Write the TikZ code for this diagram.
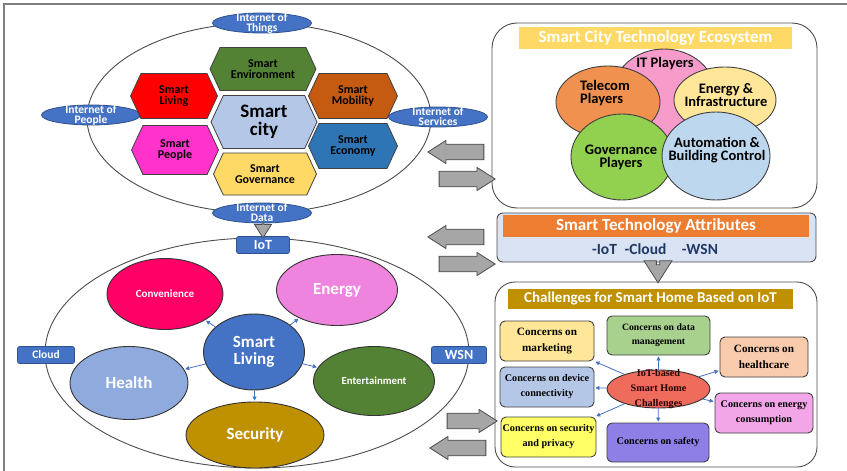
\documentclass[tikz,border=0pt]{standalone}
\usepackage{fontspec}
\setmainfont{Carlito}
\newfontfamily\chfont{Liberation Serif}
\usetikzlibrary{shapes.geometric, shapes.symbols, shapes.arrows, arrows.meta}

\definecolor{framegray}{HTML}{7F7F7F}
\definecolor{netblue}{HTML}{4472C4}
\definecolor{netborder}{HTML}{2F528F}
\definecolor{envgreen}{HTML}{548235}
\definecolor{livred}{HTML}{FF0000}
\definecolor{mobbrown}{HTML}{C55A11}
\definecolor{citylight}{HTML}{B4C7E7}
\definecolor{pplpink}{HTML}{FF33CC}
\definecolor{ecoblue}{HTML}{2E75B6}
\definecolor{govyellow}{HTML}{FFD966}
\definecolor{itpink}{HTML}{F79BCB}
\definecolor{telorange}{HTML}{F0914F}
\definecolor{enyellow}{HTML}{FFE699}
\definecolor{govgreen}{HTML}{92D050}
\definecolor{autoblue}{HTML}{BDD7EE}
\definecolor{attrbg}{HTML}{DAE3F3}
\definecolor{attrorange}{HTML}{ED7D31}
\definecolor{navy}{HTML}{1F3864}
\definecolor{gold}{HTML}{BF9000}
\definecolor{arrowgray}{HTML}{A6A6A6}
\definecolor{mkyellow}{HTML}{FFE699}
\definecolor{dmgreen}{HTML}{A9D18E}
\definecolor{hcpeach}{HTML}{F8CBAD}
\definecolor{dcblue}{HTML}{B4C7E7}
\definecolor{ecpink}{HTML}{F2A6E8}
\definecolor{spyellow}{HTML}{FFFF66}
\definecolor{sfpurple}{HTML}{8E7FE6}
\definecolor{chred}{HTML}{EF6B5B}
\definecolor{convred}{HTML}{FF0066}
\definecolor{enpink}{HTML}{EE84DD}
\definecolor{hlblue}{HTML}{8FAADC}

\tikzset{
  oval/.style 2 args={ellipse, minimum width=#1, minimum height=#2, inner sep=0pt},
  hexa/.style 2 args={signal, signal to=west and east, signal pointer angle=130,
    draw=black!75, line width=0.8pt, minimum width=#1, minimum height=#2, inner sep=0pt},
  netel/.style={oval={99}{20}, fill=netblue, draw=netborder, line width=0.8pt},
  nettxt/.style={text=white, align=center, font=\bfseries\fontsize{11.5}{10}\selectfont},
  hextxt/.style={align=center, font=\bfseries\fontsize{12}{10.8}\selectfont},
  player/.style 2 args={oval={#1}{#2}, draw=black!75, line width=0.9pt},
  plytxt/.style={align=center, font=\bfseries\fontsize{14.5}{13}\selectfont},
  blkarrow/.style 2 args={single arrow, draw=black!70, fill=arrowgray, line width=0.8pt,
    minimum height=#1, minimum width=#2, inner sep=0pt, inner ysep=6pt,
    single arrow head extend=3pt, single arrow tip angle=65},
  bar/.style={text=white, font=\bfseries\fontsize{17}{17}\selectfont, inner sep=0pt},
  concern/.style 2 args={draw=black!75, line width=0.9pt, rounded corners=5pt,
    minimum width=#1, minimum height=#2, inner sep=0pt, align=center},
  chtxt/.style={font=\chfont\bfseries\fontsize{10.2}{15}\selectfont},
  tagbox/.style={fill=netblue, draw=netborder, line width=0.6pt, rounded corners=2pt,
    minimum height=17, inner sep=0pt, text=white},
  aspect/.style 2 args={oval={#1}{#2}, draw=black!80, line width=0.9pt},
  asptxt/.style={text=white, align=center, font=\bfseries\fontsize{17}{17}\selectfont},
  tip/.style={-{Triangle[length=4pt,width=4pt]}, netblue, line width=0.8pt, shorten >=1pt}
}

\begin{document}
\begin{tikzpicture}[x=1pt,y=-1pt]
\useasboundingbox (0,0) rectangle (847,471);
% frame
\draw[framegray, line width=1.3pt] (4,471) -- (4,4) -- (847,4);

% smart city ring with the four internets
\node[aspect={344}{190}, fill=white, draw=black!70] (cityring) at (259,118) {};
\node[netel, label={[nettxt]center:Internet of\\Things}] (things) at (262,23) {};
\node[netel, label={[nettxt]center:Internet of\\People}] (people) at (91,115) {};
\node[netel, label={[nettxt]center:Internet of\\Services}] (services) at (438,117) {};
\node[netel, label={[nettxt]center:Internet of\\Data}] (data) at (262,213) {};

\node[hexa={106}{43}, fill=envgreen, label={[hextxt]center:Smart\\Environment}] (env) at (263,69) {};
\node[hexa={87}{45}, fill=livred, label={[hextxt]center:Smart\\Living}] (living) at (174,96) {};
\node[hexa={89}{45}, fill=mobbrown, label={[hextxt]center:Smart\\Mobility}] (mobility) at (353,96) {};
\node[hexa={106}{53}, fill=citylight, label={[align=center, font=\bfseries\fontsize{19}{18}\selectfont]center:Smart\\city}] (city) at (264,122) {};
\node[hexa={87}{49}, fill=pplpink, label={[hextxt]center:Smart\\People}] (ppl) at (175,150) {};
\node[hexa={89}{45}, fill=ecoblue, label={[hextxt]center:Smart\\Economy}] (economy) at (353,146) {};
\node[hexa={103}{42}, fill=govyellow, label={[hextxt]center:Smart\\Governance}] (gov) at (265,174) {};

% ecosystem box
\node[draw=black!70, line width=0.9pt, rounded corners=25pt, minimum width=325, minimum height=185] (ecobox) at (654.5,115.5) {};
\node[bar, fill=govyellow, minimum width=273, minimum height=22] (ecotitle) at (655.5,38) {Smart City Technology Ecosystem};
\node[player={104}{92}, fill=itpink] (itp) at (664,95) {};
\node[player={104}{72}, fill=telorange] (tel) at (608,102) {};
\node[player={102}{66}, fill=enyellow] (eni) at (725,100) {};
\node[player={102}{86}, fill=govgreen] (gvp) at (622,157) {};
\node[player={108}{88}, fill=autoblue] (abc) at (716,156) {};
\node[plytxt] (itplbl) at (665,64) {IT Players};
\node[plytxt, align=left] (tellbl) at (605,93) {Telecom\\Players};
\node[plytxt] (enilbl) at (726,95) {Energy \&\\Infrastructure};
\node[plytxt] (gvplbl) at (621,157) {Governance\\Players};
\node[plytxt] (abclbl) at (717,150) {Automation \&\\Building Control};

% attributes
\node[draw=black!70, fill=attrbg, line width=0.9pt, rounded corners=6pt, minimum width=319, minimum height=49] (attr) at (656.5,237.5) {};
\node[bar, fill=attrorange, minimum width=306, minimum height=22] (attrhead) at (656,226) {Smart Technology Attributes};
\node[text=navy, font=\bfseries\fontsize{15.5}{16}\selectfont, inner sep=0pt] (attrbody) at (655,249) {-IoT\enspace -Cloud\quad -WSN};

% challenges box
\node[draw=black!70, line width=0.9pt, rounded corners=20pt, minimum width=322, minimum height=185] (chbox) at (656,374.5) {};
\node[bar, fill=gold, minimum width=285, minimum height=20, font=\bfseries\fontsize{15}{15}\selectfont] (chtitle) at (650.5,299) {Challenges for Smart Home Based on IoT};
\node[concern={94}{40}, fill=mkyellow, chtxt, font=\chfont\bfseries\fontsize{11.2}{16}\selectfont] (mk) at (547,341) {Concerns on\\marketing};
\node[concern={103}{39}, fill=dmgreen, chtxt, font=\chfont\bfseries\fontsize{9.7}{14}\selectfont] (dm) at (658.5,335.5) {Concerns on data\\management};
\node[concern={88}{40}, fill=hcpeach, chtxt, font=\chfont\bfseries\fontsize{11.2}{16}\selectfont] (hc) at (764,357) {Concerns on\\healthcare};
\node[concern={94}{40}, fill=dcblue, chtxt] (dc) at (547,387) {Concerns on device\\connectivity};
\node[concern={98}{40}, fill=ecpink, chtxt] (ec) at (764,413) {Concerns on energy\\consumption};
\node[concern={95}{40}, fill=spyellow, chtxt] (sp) at (548.5,437) {Concerns on security\\and privacy};
\node[concern={102}{39}, fill=sfpurple, chtxt] (sf) at (658,442.5) {Concerns on safety};
\node[aspect={103}{38}, fill=chred, label={[chtxt, align=center, text=black!85!red]center:IoT-based\\Smart Home\\Challenges}] (ch) at (658.5,389) {};
\foreach \t in {mk, dm, hc, dc, ec, sp, sf}
  \draw[tip] (ch) -- (\t);

% smart living ring
\node[aspect={424}{230}, draw=black!70] (homering) at (257,353) {};
\node[tagbox, minimum width=53, font=\bfseries\fontsize{14}{14}\selectfont] (iot) at (263,245) {IoT};
\node[tagbox, minimum width=57, font=\bfseries\fontsize{11.5}{12}\selectfont] (cloud) at (46,355) {Cloud};
\node[tagbox, minimum width=55, font=\bfseries\fontsize{14}{14}\selectfont] (wsn) at (459,355) {WSN};
\node[aspect={116}{71}, fill=convred, label={[asptxt, font=\bfseries\fontsize{11}{11}\selectfont]center:Convenience}] (conv) at (165,294) {};
\node[aspect={121}{71}, fill=enpink, label={[asptxt]center:Energy}] (energy) at (337,290) {};
\node[aspect={101}{76}, fill=netblue, label={[asptxt]center:Smart\\Living}] (sl) at (254,352) {};
\node[aspect={118}{73}, fill=hlblue, label={[asptxt]center:Health}] (health) at (129,383) {};
\node[aspect={121}{69}, fill=envgreen, label={[asptxt, font=\bfseries\fontsize{10.8}{11}\selectfont]center:Entertainment}] (ent) at (374,381) {};
\node[aspect={138}{66}, fill=gold, label={[asptxt]center:Security}] (sec) at (255,435) {};
\foreach \t in {conv, energy, health, ent, sec}
  \draw[tip] (sl) -- (\t);

% block arrows
\node[blkarrow={14}{17}, inner ysep=4.5pt, shape border rotate=270] (down1) at (263,230) {};
\node[blkarrow={18}{28}, inner ysep=7pt, shape border rotate=270] (down2) at (658,272.5) {};
\node[blkarrow={56}{23}, shape border rotate=180] (back1) at (462,152) {};
\node[blkarrow={56}{23}] (fwd1) at (461,179) {};
\node[blkarrow={56}{23}, shape border rotate=180] (back2) at (462,237) {};
\node[blkarrow={56}{23}] (fwd2) at (461,264) {};
\node[blkarrow={50}{23}] (fwd3) at (466,421) {};
\node[blkarrow={56}{23}, shape border rotate=180] (back3) at (464,448) {};
\end{tikzpicture}
\end{document}
